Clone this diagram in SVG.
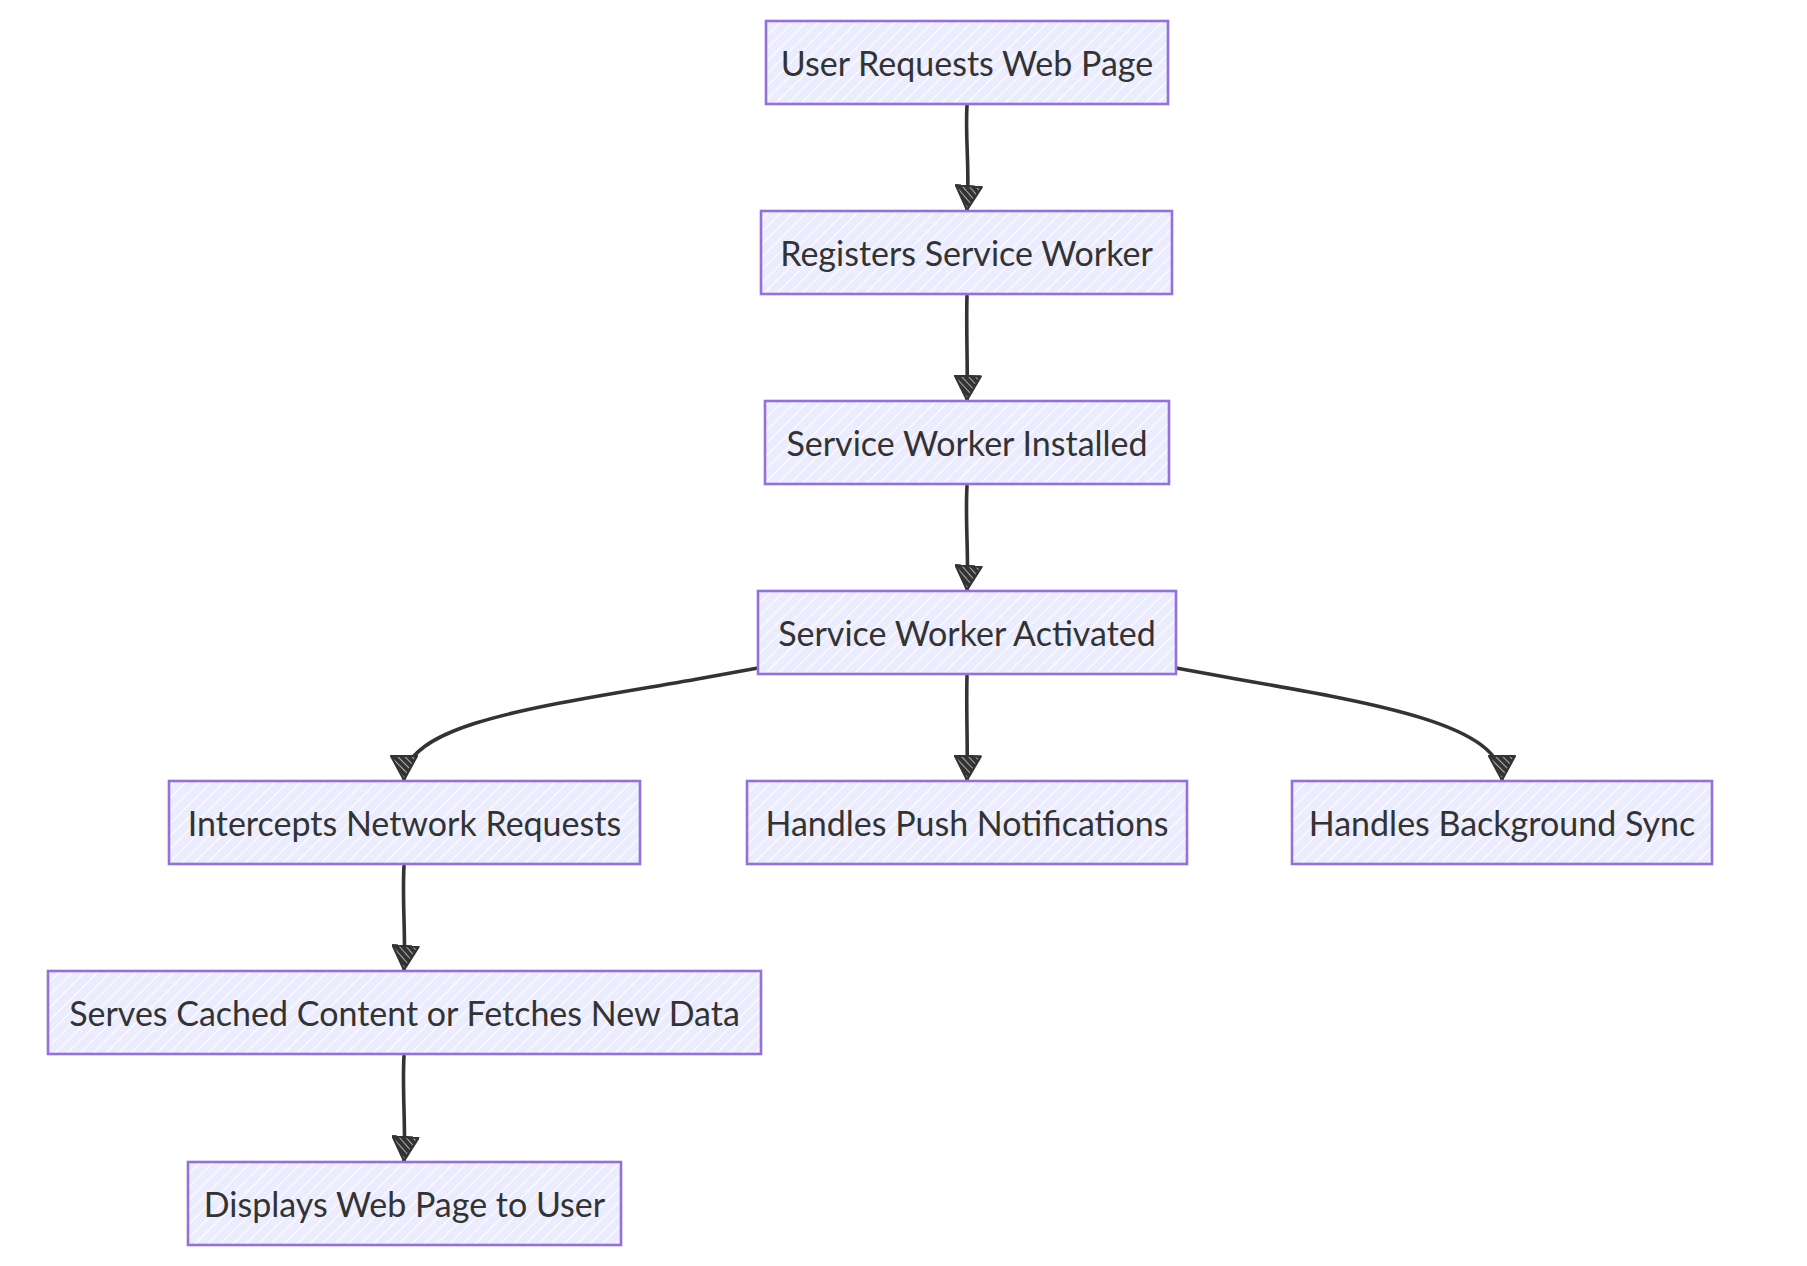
<svg xmlns="http://www.w3.org/2000/svg" width="1807" height="1266" viewBox="0 0 1807 1266">
<defs>
<pattern id="hatch" patternUnits="userSpaceOnUse" width="9" height="9" patternTransform="rotate(45)">
<rect width="9" height="9" fill="#ECECFF"/>
<line x1="0" y1="0" x2="0" y2="9" stroke="#ffffff" stroke-width="2.2"/>
</pattern>
<pattern id="ahatch" patternUnits="userSpaceOnUse" width="5" height="5" patternTransform="rotate(45)">
<rect width="5" height="5" fill="#333333"/>
<line x1="0" y1="0" x2="0" y2="5" stroke="#ffffff" stroke-width="1.2"/>
</pattern>
<marker id="arrow" viewBox="0 0 26 28" refX="25" refY="14" markerWidth="26" markerHeight="28" markerUnits="userSpaceOnUse" orient="auto">
<path d="M1,1 L25,14 L1,27 Z" fill="url(#ahatch)" stroke="#333333" stroke-width="2.2" stroke-linejoin="round"/>
</marker>
</defs>
<style>
.node rect{fill:url(#hatch);stroke:#9370DB;stroke-width:2.6;}
.node text{font-family:Lato,"Liberation Sans",sans-serif;font-size:34px;fill:#333333;text-anchor:middle;}
.edge{fill:none;stroke:#333333;stroke-width:3.6;stroke-linecap:round;marker-end:url(#arrow);}
</style>
<rect width="1807" height="1266" fill="#ffffff"/>
<g id="connectors">
<path class="edge" d="M967,105 C965,140 970,170 967,210"/>
<path class="edge" d="M967,296 C966,330 968,370 967,400"/>
<path class="edge" d="M967,486 C965,520 969,560 967,590"/>
<path class="edge" d="M758,668 L703,678 C560,704 404,720 404,780"/>
<path class="edge" d="M967,676 C966,710 968,750 967,780"/>
<path class="edge" d="M1176,668 L1231,678 C1380,704 1502,725 1502,780"/>
<path class="edge" d="M404,866 C402,900 406,940 404,970"/>
<path class="edge" d="M404,1056 C402,1090 406,1130 404,1161"/>
</g>
<g id="n1" class="node"><rect x="766" y="21" width="402" height="83"/><text x="967" y="76">User Requests Web Page</text></g>
<g id="n2" class="node"><rect x="761" y="211" width="411" height="83"/><text x="966.5" y="266">Registers Service Worker</text></g>
<g id="n3" class="node"><rect x="765" y="401" width="404" height="83"/><text x="967" y="456">Service Worker Installed</text></g>
<g id="n4" class="node"><rect x="758" y="591" width="418" height="83"/><text x="967" y="646">Service Worker Activated</text></g>
<g id="n5" class="node"><rect x="169" y="781" width="471" height="83"/><text x="404.5" y="836">Intercepts Network Requests</text></g>
<g id="n6" class="node"><rect x="747" y="781" width="440" height="83"/><text x="967" y="836">Handles Push Notifications</text></g>
<g id="n7" class="node"><rect x="1292" y="781" width="420" height="83"/><text x="1502" y="836">Handles Background Sync</text></g>
<g id="n8" class="node"><rect x="48" y="971" width="713" height="83"/><text x="404.5" y="1026">Serves Cached Content or Fetches New Data</text></g>
<g id="n9" class="node"><rect x="188" y="1162" width="433" height="83"/><text x="404.5" y="1217">Displays Web Page to User</text></g>
</svg>
